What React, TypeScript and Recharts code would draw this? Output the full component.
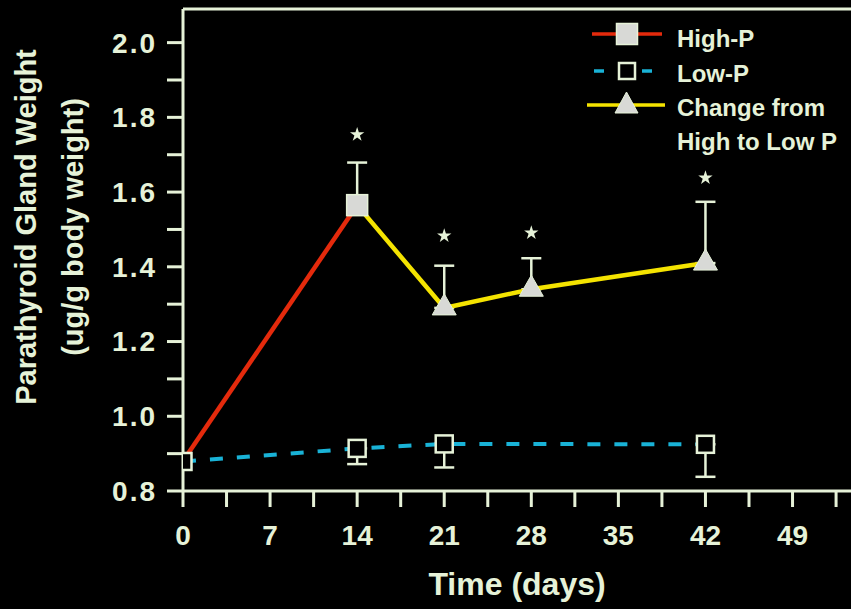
import {
  ComposedChart,
  Line,
  Scatter,
  XAxis,
  YAxis,
  ErrorBar,
  ReferenceLine,
  Legend,
} from 'recharts';

// High-P group (only sampled at start and day 14)
const highPDays = [0, 14];
const highPMean = [0.88, 1.565];
const highPErr: Array<[number, number] | null> = [null, [0, 0.114]];
const highPMarker = [false, true];

// Low-P group, error bars point downwards
const lowPDays = [0, 14, 21, 42];
const lowPMean = [0.879, 0.914, 0.926, 0.925];
const lowPErr: Array<[number, number] | null> = [null, [0.042, 0], [0.063, 0], [0.087, 0]];

// switched from high to low P at day 14
const changeDays = [14, 21, 28, 42];
const changeMean = [1.565, 1.29, 1.34, 1.41];
const changeErr: Array<[number, number] | null> = [null, [0, 0.113], [0, 0.083], [0, 0.164]];
const changeMarker = [false, true, true, true];

// significance asterisks
const starDays = [14, 21, 28, 42];
const starLevel = [1.754, 1.483, 1.491, 1.638];

const xTicks = [0, 3.5, 7, 10.5, 14, 17.5, 21, 24.5, 28, 31.5, 35, 38.5, 42, 45.5, 49, 52.5];
const yTicks = [0.8, 0.9, 1.0, 1.1, 1.2, 1.3, 1.4, 1.5, 1.6, 1.7, 1.8, 1.9, 2.0];

const legendItems = ['High-P', 'Low-P', 'Change from|High to Low P'];

const FG = '#e6f2d8';
const MARK = '#d8d9d6';
const RED = '#e42a0c';
const CYAN = '#19b2d6';
const YELLOW = '#f4e300';
const FONT = '"Liberation Sans", Arial, sans-serif';

const highPData = highPDays.map((day, i) => ({ day, value: highPMean[i], err: highPErr[i], marker: highPMarker[i] }));
const lowPData = lowPDays.map((day, i) => ({ day, value: lowPMean[i], err: lowPErr[i], marker: true }));
const changeData = changeDays.map((day, i) => ({ day, value: changeMean[i], err: changeErr[i], marker: changeMarker[i] }));
const starData = starDays.map((day, i) => ({ day, value: starLevel[i] }));

function FilledSquare(props: any) {
  const { cx, cy, payload } = props;
  if (cx == null || cy == null || !payload?.marker) return <g />;
  return <rect x={cx - 10.5} y={cy - 10.5} width={21} height={21} fill={MARK} stroke={FG} strokeWidth={1.5} />;
}

function HollowSquare(props: any) {
  const { cx, cy, payload } = props;
  if (cx == null || cy == null || !payload?.marker) return <g />;
  return <rect x={cx - 8.5} y={cy - 8.5} width={17} height={17} fill="#000" stroke={FG} strokeWidth={2.5} />;
}

function Triangle(props: any) {
  const { cx, cy, payload } = props;
  if (cx == null || cy == null || !payload?.marker) return <g />;
  return <path d={`M${cx},${cy - 14}L${cx + 12},${cy + 7}L${cx - 12},${cy + 7}Z`} fill={MARK} stroke={FG} strokeWidth={1} />;
}

function YTitle(props: any) {
  const { viewBox } = props;
  const cy = viewBox.y + viewBox.height / 2 - 23;
  return (
    <g fill={FG} fontFamily={FONT} fontWeight="bold" fontSize={29} textAnchor="middle">
      <text x={36} y={cy} transform={`rotate(-90, 36, ${cy})`}>Parathyroid Gland Weight</text>
      <text x={83} y={cy} transform={`rotate(-90, 83, ${cy})`}>(ug/g body weight)</text>
    </g>
  );
}

function XTitle(props: any) {
  const { viewBox } = props;
  return (
    <text x={viewBox.x + viewBox.width / 2} y={viewBox.y + 104} fill={FG} fontFamily={FONT} fontWeight="bold" fontSize={32} textAnchor="middle">
      Time (days)
    </text>
  );
}

function LegendBox() {
  const textStyle = { fill: FG, fontFamily: FONT, fontWeight: 'bold' as const, fontSize: 24 };
  return (
    <svg width={266} height={140}>
      <line x1={7} y1={16} x2={77} y2={16} stroke={RED} strokeWidth={3.5} />
      <rect x={31.5} y={5.5} width={21} height={21} fill={MARK} stroke={FG} strokeWidth={1.5} />
      <text x={92} y={29} {...textStyle}>{legendItems[0]}</text>

      <line x1={7} y1={53} x2={77} y2={53} stroke={CYAN} strokeWidth={3.5} strokeDasharray="10 14" strokeDashoffset={-2} />
      <rect x={34} y={45} width={16} height={16} fill="#000" stroke={FG} strokeWidth={2.5} />
      <text x={92} y={64} {...textStyle}>{legendItems[1]}</text>

      <line x1={2} y1={87} x2={80} y2={87} stroke={YELLOW} strokeWidth={3.5} />
      <path d="M41.5,74L53,95L30,95Z" fill={MARK} stroke={FG} strokeWidth={1} />
      {legendItems[2].split('|').map((t, i) => (
        <text key={t} x={92} y={98 + i * 34} {...textStyle}>{t}</text>
      ))}
    </svg>
  );
}

export default function App() {
  return (
    <div style={{ position: 'absolute', left: 0, top: 0, width: 851, height: 609, background: '#000' }}>
      <ComposedChart width={851} height={609} margin={{ top: 9, right: 0, left: 0, bottom: 0 }}>
        <XAxis
          dataKey="day"
          type="number"
          domain={[0, 53.7]}
          allowDataOverflow
          ticks={xTicks}
          interval={0}
          tickFormatter={(v: number) => (v % 7 === 0 ? String(v) : '')}
          height={118}
          tickSize={16}
          tickMargin={18}
          axisLine={{ stroke: FG, strokeWidth: 3 }}
          tickLine={{ stroke: FG, strokeWidth: 3 }}
          tick={{ fill: FG, fontSize: 28, fontWeight: 'bold', fontFamily: FONT }}
          label={<XTitle />}
        />
        <YAxis
          type="number"
          domain={[0.8, 2.09]}
          allowDataOverflow
          ticks={yTicks}
          interval={0}
          tickFormatter={(v: number) => (Math.round(v * 10) % 2 === 0 ? v.toFixed(1) : '')}
          width={183}
          tickSize={16}
          tickMargin={10}
          axisLine={{ stroke: FG, strokeWidth: 3 }}
          tickLine={{ stroke: FG, strokeWidth: 3 }}
          tick={{ fill: FG, fontSize: 28, fontWeight: 'bold', fontFamily: FONT, letterSpacing: 2 }}
          label={<YTitle />}
        />
        <ReferenceLine y={2.09} stroke={FG} strokeWidth={3} />
        <Line
          data={changeData}
          dataKey="value"
          name="Change from High to Low P"
          type="linear"
          stroke={YELLOW}
          strokeWidth={4.5}
          dot={<Triangle />}
          activeDot={false}
          isAnimationActive={false}
        >
          <ErrorBar dataKey="err" direction="y" width={10} stroke={FG} strokeWidth={2.5} />
        </Line>
        <Line
          data={highPData}
          dataKey="value"
          name="High-P"
          type="linear"
          stroke={RED}
          strokeWidth={4.5}
          dot={<FilledSquare />}
          activeDot={false}
          isAnimationActive={false}
        >
          <ErrorBar dataKey="err" direction="y" width={10} stroke={FG} strokeWidth={2.5} />
        </Line>
        <Line
          data={lowPData}
          dataKey="value"
          name="Low-P"
          type="linear"
          stroke={CYAN}
          strokeWidth={4}
          strokeDasharray="13 14"
          dot={<HollowSquare />}
          activeDot={false}
          isAnimationActive={false}
        >
          <ErrorBar dataKey="err" direction="y" width={10} stroke={FG} strokeWidth={2.5} />
        </Line>
        <Scatter data={starData} dataKey="value" shape="star" fill={FG} isAnimationActive={false} legendType="none" />
        <Legend
          layout="horizontal"
          verticalAlign="middle"
          align="center"
          wrapperStyle={{ top: 18, left: 585, width: 266, height: 140 }}
          content={() => <LegendBox />}
        />
      </ComposedChart>
    </div>
  );
}
